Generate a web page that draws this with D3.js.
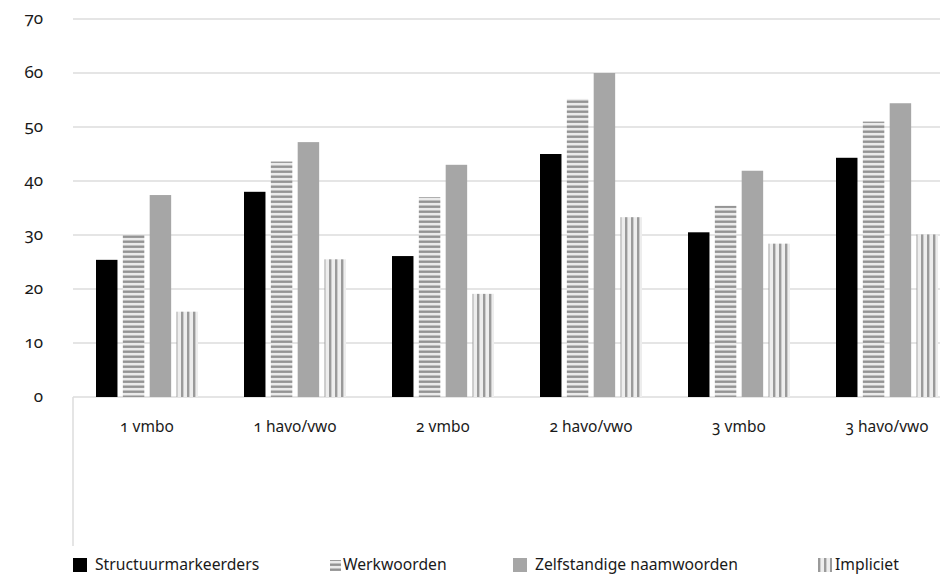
<html>
<head>
<style>
  body { margin: 0; background: #fff; }
  text { font-family: "Noto Sans", "Open Sans", sans-serif; fill: #1a1a1a; font-variant-numeric: oldstyle-nums; font-feature-settings: "onum" 1; }
</style>
</head>
<body>
<svg id="chart" width="940" height="574"></svg>
<script src="https://cdn.jsdelivr.net/npm/d3@7"></script>
<script>
const categories = ["1 vmbo", "1 havo/vwo", "2 vmbo", "2 havo/vwo", "3 vmbo", "3 havo/vwo"]
const seriesNames = ["Structuurmarkeerders", "Werkwoorden", "Zelfstandige naamwoorden", "Impliciet"]
const structuurmarkeerders = [25.4, 38.0, 26.1, 45.0, 30.5, 44.3]
const werkwoorden = [30.1, 43.6, 37.0, 55.2, 35.4, 51.0]
const zelfstandigeNaamwoorden = [37.4, 47.2, 43.0, 60.0, 41.9, 54.4]
const impliciet = [15.8, 25.5, 19.1, 33.3, 28.4, 30.1]
const yTicks = [0, 10, 20, 30, 40, 50, 60, 70]

const values = [structuurmarkeerders, werkwoorden, zelfstandigeNaamwoorden, impliciet]

let svg = d3.select("#chart")

// patterns for the striped series
let defs = svg.append("defs")
let ph = defs.append("pattern").attr("id", "hstripe")
    .attr("patternUnits", "userSpaceOnUse").attr("width", 6).attr("height", 5)
ph.append("rect").attr("width", 6).attr("height", 5).attr("fill", "#ebebeb")
ph.append("rect").attr("y", 0.5).attr("width", 6).attr("height", 2.4).attr("fill", "#949494")

let pv = defs.append("pattern").attr("id", "vstripe")
    .attr("patternUnits", "userSpaceOnUse").attr("width", 6).attr("height", 6)
pv.append("rect").attr("width", 6).attr("height", 6).attr("fill", "#ededed")
pv.append("rect").attr("x", 0).attr("width", 2.4).attr("height", 6).attr("fill", "#9a9a9a")

const fills = ["#000000", "url(#hstripe)", "#a6a6a6", "url(#vstripe)"]

let left = 73, right = 961
let y = d3.scaleLinear().domain([0, 70]).range([397, 19])
let x0 = d3.scaleBand().domain(categories).range([left, right])
let x1 = d3.scaleBand().domain(seriesNames)
    .range([23, x0.bandwidth() - 23]).paddingInner(0.2).paddingOuter(0)

// gridlines
svg.append("g").selectAll("line").data(yTicks).enter().append("line")
    .attr("x1", left).attr("x2", 940)
    .attr("y1", d => y(d)).attr("y2", d => y(d))
    .attr("stroke", "#dcdcdc").attr("stroke-width", 1.5)

// vertical axis line below the baseline
svg.append("line").attr("x1", left).attr("x2", left)
    .attr("y1", y(0)).attr("y2", 546)
    .attr("stroke", "#dcdcdc").attr("stroke-width", 1.5)

// y labels
svg.append("g").selectAll("text").data(yTicks).enter().append("text")
    .attr("x", 43).attr("y", d => y(d) + 5)
    .attr("text-anchor", "end")
    .style("font-size", "17px")
    .text(d => d)

// bars
let groups = svg.append("g").selectAll("g").data(categories).enter().append("g")
    .attr("transform", d => "translate(" + x0(d) + ",0)")

groups.selectAll("rect")
    .data((c, i) => seriesNames.map((s, j) => ({ s: s, j: j, v: values[j][i] })))
    .enter().append("rect")
    .attr("x", d => x1(d.s))
    .attr("width", x1.bandwidth())
    .attr("y", d => y(d.v))
    .attr("height", d => y(0) - y(d.v))
    .attr("fill", d => fills[d.j])

// category labels
svg.append("g").selectAll("text").data(categories).enter().append("text")
    .attr("x", d => x0(d) + x0.bandwidth() / 2)
    .attr("y", 432)
    .attr("text-anchor", "middle")
    .style("font-size", "15.5px")
    .text(d => d)

// legend
let legendX = [73, 328, 513, 818]
let legendG = svg.selectAll(".legend").data(seriesNames).enter().append("g")
    .attr("class", "legend")
    .attr("transform", (d, i) => "translate(" + legendX[i] + ",558)")

legendG.append("rect")
    .attr("x", (d, i) => i == 1 ? 2 : 0)
    .attr("y", (d, i) => i == 1 ? 2 : 0)
    .attr("width", (d, i) => i == 1 ? 11 : 14)
    .attr("height", (d, i) => i == 1 ? 11 : 14)
    .attr("fill", (d, i) => fills[i])

legendG.append("text")
    .attr("x", (d, i) => i == 3 ? 17 : (i == 1 ? 15 : 22))
    .attr("y", 12)
    .style("font-size", "15.7px")
    .text(d => d)
</script>
</body>
</html>
